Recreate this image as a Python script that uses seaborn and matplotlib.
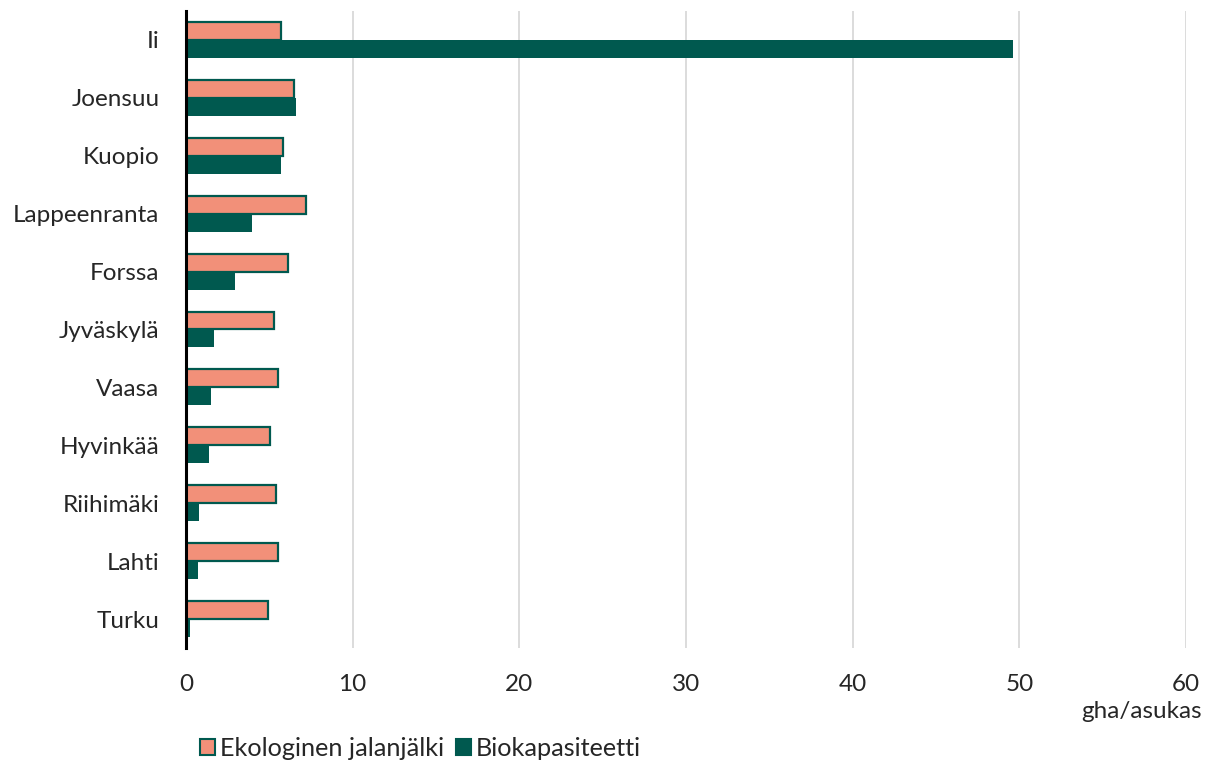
import matplotlib
matplotlib.use("Agg")
import matplotlib.pyplot as plt
from matplotlib.patches import Patch
import seaborn as sns
import pandas as pd

cities = ["Ii", "Joensuu", "Kuopio", "Lappeenranta", "Forssa", "Jyväskylä",
          "Vaasa", "Hyvinkää", "Riihimäki", "Lahti", "Turku"]
footprint = [5.7, 6.5, 5.8, 7.2, 6.1, 5.3, 5.5, 5.05, 5.4, 5.5, 4.9]
biocapacity = [49.6, 6.6, 5.7, 3.95, 2.95, 1.7, 1.5, 1.35, 0.75, 0.7, 0.25]
series = ["Ekologinen jalanjälki", "Biokapasiteetti"]
xticks = [0, 10, 20, 30, 40, 50, 60]
unit_label = "gha/asukas"

PINK = "#F29079"
GREEN = "#00594F"
FS = 17.5

df = pd.DataFrame({
    "kunta": cities * 2,
    "arvo": footprint + biocapacity,
    "sarja": [series[0]] * len(cities) + [series[1]] * len(cities),
})

sns.set_theme(style="white")
plt.rcParams["font.family"] = ["Lato", "DejaVu Sans"]

fig = plt.figure(figsize=(12.1, 7.63), dpi=100)
ax = fig.add_axes([186 / 1210, 1 - 648 / 763, 1000 / 1210, 637 / 763])

sns.barplot(data=df, x="arvo", y="kunta", hue="sarja", orient="h",
            palette=[PINK, GREEN], width=0.62, ax=ax, legend=False,
            saturation=1, errorbar=None)

for p in ax.containers[0]:
    p.set_edgecolor(GREEN)
    p.set_linewidth(1.6)
for p in ax.containers[1]:
    p.set_edgecolor(GREEN)
    p.set_linewidth(0)

ax.set_xlim(0, 60)
ax.set_xticks(xticks)
ax.set_xticklabels([str(t) for t in xticks], fontsize=FS)
ax.tick_params(axis="y", labelsize=FS, length=0, pad=19)
ax.tick_params(axis="x", length=0, pad=19)
ax.set_xlabel("")
ax.set_ylabel("")
ax.grid(axis="x", color="#D9D9D9", linewidth=1.3)
ax.set_axisbelow(True)
for side in ["top", "right", "bottom"]:
    ax.spines[side].set_visible(False)
ax.spines["left"].set_color("black")
ax.spines["left"].set_linewidth(2.2)
ax.spines["left"].set_zorder(5)

fig.text(1202 / 1210, 1 - 711 / 763, unit_label, ha="right", va="center", fontsize=FS)

handles = [Patch(facecolor=PINK, edgecolor=GREEN, linewidth=1.5, label=series[0]),
           Patch(facecolor=GREEN, edgecolor=GREEN, linewidth=1.5, label=series[1])]
fig.legend(handles=handles, loc="center left", bbox_to_anchor=(200 / 1210, 1 - 748 / 763),
           ncol=2, frameon=False, fontsize=18.2, handlelength=0.6, handleheight=0.6,
           handletextpad=0.2, columnspacing=0.45, borderaxespad=0, borderpad=0)

fig.savefig("out.png", dpi=100)
